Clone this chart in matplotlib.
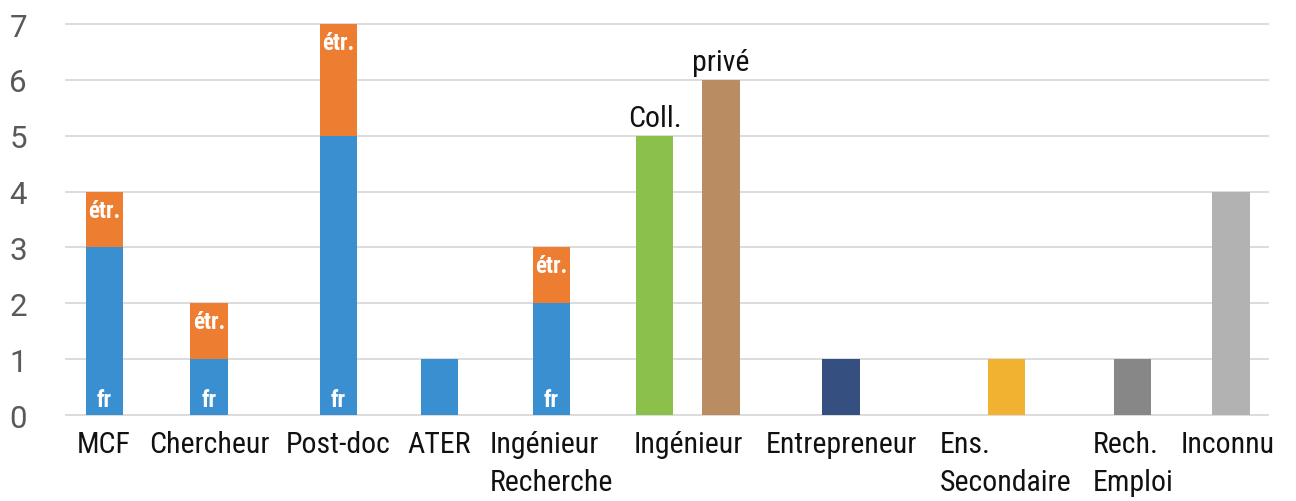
import matplotlib
matplotlib.use("Agg")
import matplotlib.pyplot as plt

# ---- data ----
stack_labels = ["MCF", "Chercheur", "Post-doc", "ATER", "Ingénieur Recherche"]
fr_values = [3, 1, 5, 1, 2]
etr_values = [1, 1, 2, 0, 1]

ing_labels = ["Coll.", "privé"]
ing_values = [5, 6]

other_labels = ["Entrepreneur", "Ens. Secondaire", "Rech. Emploi", "Inconnu"]
other_values = [1, 1, 1, 4]

tick_labels = ["MCF", "Chercheur", "Post-doc", "ATER", "Ingénieur\nRecherche",
               "Ingénieur", "Entrepreneur", "Ens.\nSecondaire", "Rech.\nEmploi", "Inconnu"]
y_ticks = [0, 1, 2, 3, 4, 5, 6, 7]

# ---- layout (category slot positions) ----
stack_pos = [0.385, 1.43, 2.725, 3.735, 4.855]
ing_pos = [5.885, 6.55]
other_pos = [7.75, 9.405, 10.665, 11.65]
tick_pos = [0.38, 1.43, 2.725, 3.73, 4.85, 6.22, 7.75, 9.40, 10.67, 11.62]
bar_w = 0.375

blue = "#3A8FD0"
orange = "#ED7D31"
ing_colors = ["#8BC14B", "#B98C62"]
other_colors = ["#344F80", "#F2B231", "#878787", "#B2B2B2"]

narrow = ["Roboto Condensed", "DejaVu Sans"]

fig = plt.figure(figsize=(12.96, 5.02), dpi=100)
ax = fig.add_axes([66/1296, 1-416/502, (1268-66)/1296, (416-25)/502])

ax.bar(stack_pos, fr_values, width=bar_w, color=blue, zorder=2)
ax.bar(stack_pos, etr_values, width=bar_w, bottom=fr_values, color=orange, zorder=2)
ax.bar(ing_pos, ing_values, width=bar_w, color=ing_colors, zorder=2)
ax.bar(other_pos, other_values, width=bar_w, color=other_colors, zorder=2)

for x, f, e in zip(stack_pos, fr_values, etr_values):
    if e > 0:
        ax.annotate("étr.", (x, f + e), xytext=(0, -5), textcoords="offset points",
                    ha="center", va="top", color="white", fontsize=16.5,
                    fontweight="bold", family=narrow, zorder=3)
        ax.annotate("fr", (x, 0), xytext=(0, 3), textcoords="offset points",
                    ha="center", va="bottom", color="white", fontsize=16.5,
                    fontweight="bold", family=narrow, zorder=3)

for x, v, lab in zip(ing_pos, ing_values, ing_labels):
    ax.annotate(lab, (x, v), xytext=(0, 3), textcoords="offset points",
                ha="center", va="bottom", color="#111111", fontsize=21.5,
                family=narrow, zorder=3)

ax.set_xlim(0, 12.02)
ax.set_ylim(0, 7)
ax.set_yticks(y_ticks)
ax.set_yticklabels([str(v) for v in y_ticks], fontsize=22.5, color="#595959",
                   family=["Roboto", "DejaVu Sans"])
ax.set_xticks(tick_pos)
ax.set_xticklabels(tick_labels, fontsize=21.5, color="#111111", family=narrow,
                   multialignment="left", linespacing=1.45)
ax.tick_params(axis="both", length=0)
ax.tick_params(axis="y", pad=28)
ax.tick_params(axis="x", pad=11)
for s in ax.spines.values():
    s.set_visible(False)
ax.yaxis.grid(True, color="#D9D9D9", linewidth=1.3, zorder=0)
ax.set_axisbelow(True)
for gl in ax.get_ygridlines():
    gl.set_clip_on(False)

fig.savefig("out.png", dpi=100)
